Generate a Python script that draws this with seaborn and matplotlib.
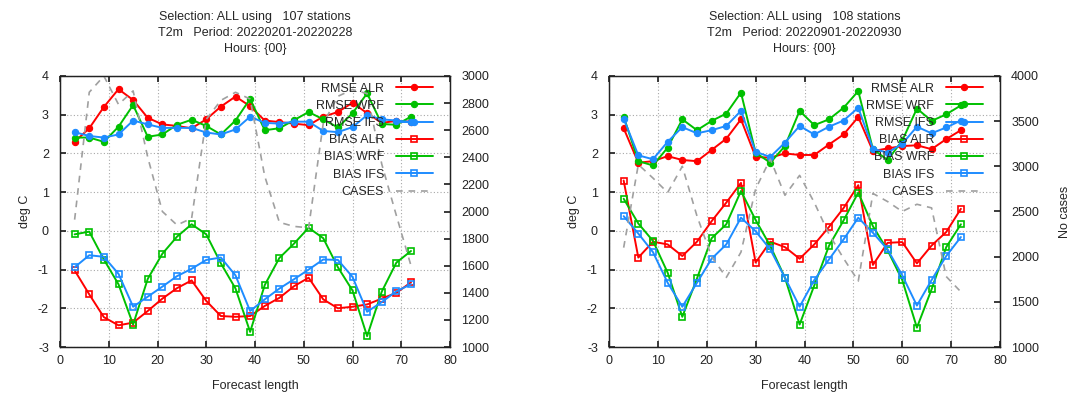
import matplotlib
matplotlib.use("Agg")
import matplotlib.pyplot as plt
import seaborn as sns
import numpy as np

# ---------------- data ----------------
hours = [3, 6, 9, 12, 15, 18, 21, 24, 27, 30, 33, 36, 39, 42, 45, 48, 51, 54, 57, 60, 63, 66, 69, 72]
series_names = ["RMSE ALR", "RMSE WRF", "RMSE IFS", "BIAS ALR", "BIAS WRF", "BIAS IFS"]

# February 2022 (107 stations)
feb_rmse_alr = [2.30, 2.65, 3.20, 3.66, 3.38, 2.92, 2.75, 2.71, 2.65, 2.88, 3.21, 3.47, 3.22, 2.85, 2.81, 2.77, 2.73, 2.95, 3.07, 3.31, 3.04, 2.79, 2.84, 2.82]
feb_rmse_wrf = [2.41, 2.41, 2.30, 2.69, 3.25, 2.43, 2.49, 2.74, 2.87, 2.71, 2.49, 2.85, 3.41, 2.60, 2.65, 2.86, 3.07, 2.88, 2.67, 3.04, 3.55, 2.76, 2.74, 2.95]
feb_rmse_ifs = [2.55, 2.45, 2.41, 2.49, 2.85, 2.75, 2.66, 2.66, 2.66, 2.54, 2.49, 2.62, 2.95, 2.79, 2.77, 2.82, 2.82, 2.58, 2.55, 2.68, 2.99, 2.88, 2.85, 2.81]
feb_bias_alr = [-1.02, -1.64, -2.23, -2.44, -2.37, -2.07, -1.75, -1.48, -1.28, -1.81, -2.20, -2.22, -2.20, -1.94, -1.73, -1.43, -1.21, -1.77, -2.00, -1.96, -1.90, -1.75, -1.60, -1.33]
feb_bias_wrf = [-0.09, -0.02, -0.74, -1.38, -2.42, -1.24, -0.59, -0.15, 0.17, -0.09, -0.84, -1.49, -2.61, -1.40, -0.70, -0.33, 0.08, -0.19, -0.94, -1.54, -2.72, -1.57, -0.82, -0.52]
feb_bias_ifs = [-0.94, -0.63, -0.67, -1.11, -1.96, -1.70, -1.44, -1.17, -0.98, -0.75, -0.69, -1.15, -2.07, -1.77, -1.49, -1.25, -1.00, -0.74, -0.75, -1.19, -2.09, -1.84, -1.56, -1.38]
feb_cases = [1940, 2880, 3000, 2790, 2890, 2400, 2000, 1900, 1950, 2680, 2820, 2880, 2830, 2260, 1920, 1890, 1880, 2650, 2850, 2900, 2870, 2350, 1970, 1600]

# September 2022 (108 stations)
sep_rmse_alr = [2.65, 1.76, 1.80, 1.93, 1.83, 1.80, 2.09, 2.38, 2.88, 1.91, 1.89, 2.00, 1.96, 1.96, 2.23, 2.49, 2.94, 2.06, 2.13, 2.19, 2.21, 2.11, 2.37, 2.60]
sep_rmse_wrf = [2.95, 1.80, 1.69, 2.15, 2.88, 2.60, 2.84, 3.03, 3.57, 2.02, 1.76, 2.19, 3.10, 2.73, 2.88, 3.18, 3.61, 2.11, 1.83, 2.33, 3.16, 2.84, 3.01, 3.24]
sep_rmse_ifs = [2.90, 1.95, 1.85, 2.30, 2.68, 2.52, 2.60, 2.71, 3.10, 2.04, 1.91, 2.28, 2.71, 2.49, 2.69, 2.85, 3.18, 2.12, 2.02, 2.25, 2.69, 2.52, 2.67, 2.85]
sep_bias_alr = [1.30, -0.69, -0.28, -0.35, -0.65, -0.28, 0.25, 0.73, 1.24, -0.82, -0.28, -0.42, -0.72, -0.35, 0.10, 0.59, 1.18, -0.88, -0.31, -0.29, -0.84, -0.38, -0.03, 0.57]
sep_bias_wrf = [0.83, 0.19, -0.26, -1.08, -2.22, -1.23, -0.19, 0.17, 1.03, 0.28, -0.39, -1.21, -2.42, -1.41, -0.39, 0.27, 0.99, 0.12, -0.50, -1.27, -2.50, -1.51, -0.42, 0.17]
sep_bias_ifs = [0.38, -0.07, -0.55, -1.34, -1.96, -1.34, -0.72, -0.35, 0.34, -0.01, -0.48, -1.21, -1.96, -1.27, -0.74, -0.22, 0.34, -0.05, -0.48, -1.15, -1.93, -1.27, -0.65, -0.16]
sep_cases = [2100, 3020, 2870, 2710, 3000, 2450, 2000, 1770, 2050, 2750, 3080, 2680, 2900, 2600, 2250, 1980, 1730, 2700, 2610, 2500, 2580, 2540, 1780, 1610]

feb_title = "Selection: ALL using   107 stations\nT2m   Period: 20220201-20220228\nHours: {00}"
sep_title = "Selection: ALL using   108 stations\nT2m   Period: 20220901-20220930\nHours: {00}"

# ---------------- style ----------------
sns.set_theme(style="white")
plt.rcParams["font.family"] = ["Liberation Sans", "DejaVu Sans"]
plt.rcParams["font.size"] = 9
plt.rcParams["axes.unicode_minus"] = False

RED, GREEN, BLUE, GRAY = "#ff0000", "#00c000", "#1e8cff", "#a0a0a0"
colors = [RED, GREEN, BLUE, RED, GREEN, BLUE]

W, H = 1073, 399
fig = plt.figure(figsize=(W / 100, H / 100), dpi=100)


def panel(rect, values, cases, y2max, y2step, title, y2label):
    ax = fig.add_axes(rect)
    for name, vals, col in zip(series_names, values, colors):
        if name.startswith("RMSE"):
            sns.lineplot(x=hours, y=vals, ax=ax, color=col, linewidth=1.4,
                         marker="o", markersize=4.5, markeredgecolor=col,
                         markerfacecolor=col, markeredgewidth=0.8, label=name)
        else:
            sns.lineplot(x=hours, y=vals, ax=ax, color=col, linewidth=1.4,
                         marker="s", markersize=5.0, markeredgecolor=col,
                         markerfacecolor="none", markeredgewidth=1.2, label=name)
    if ax.get_legend() is not None:
        ax.get_legend().remove()
    ax.set_xlim(0, 80)
    ax.set_ylim(-3, 4)
    ax.set_xticks(range(0, 81, 10))
    ax.set_yticks(range(-3, 5))
    ax.grid(True, color="#a8a8a8", linestyle=(0, (1, 2)), linewidth=0.8)
    ax.tick_params(axis="x", direction="in", length=4, top=True, bottom=True,
                   pad=6, labelsize=9, colors="#222222")
    ax.tick_params(axis="y", direction="in", length=4, left=True, right=False,
                   pad=8, labelsize=9, colors="#222222")
    for s in ax.spines.values():
        s.set_color("#222222")
        s.set_linewidth(0.9)
    ax.set_xlabel("Forecast length", fontsize=9, labelpad=9)
    ax.set_ylabel("deg C", fontsize=9, labelpad=5)
    ax.set_title(title, fontsize=9, pad=17, linespacing=1.45)

    tw = ax.twinx()
    sns.lineplot(x=hours, y=cases, ax=tw, color=GRAY, linewidth=1.2,
                 linestyle=(0, (4, 3.5)), label="CASES")
    if tw.get_legend() is not None:
        tw.get_legend().remove()
    tw.set_ylim(1000, y2max)
    tw.set_yticks(np.arange(1000, y2max + 1, y2step))
    tw.tick_params(axis="y", direction="in", length=4, pad=8, labelsize=9,
                   colors="#222222")
    tw.grid(False)
    for s in tw.spines.values():
        s.set_color("#222222")
        s.set_linewidth(0.9)
    tw.set_ylabel(y2label, fontsize=9, labelpad=14)

    h1, l1 = ax.get_legend_handles_labels()
    h2, l2 = tw.get_legend_handles_labels()
    axw = rect[2] * W
    axh = rect[3] * H
    tw.legend(h1 + h2, l1 + l2, loc="upper right",
              bbox_to_anchor=(1 - 17 / axw, 1 - 6.5 / axh),
              frameon=False, markerfirst=False, handlelength=3.0,
              handletextpad=0.9, labelspacing=0.42, borderpad=0,
              borderaxespad=0, fontsize=9)
    return ax, tw


panel([60 / W, 52 / H, 390 / W, 271 / H],
      [feb_rmse_alr, feb_rmse_wrf, feb_rmse_ifs, feb_bias_alr, feb_bias_wrf, feb_bias_ifs],
      feb_cases, 3000, 200, feb_title, "")
panel([609 / W, 52 / H, 391 / W, 271 / H],
      [sep_rmse_alr, sep_rmse_wrf, sep_rmse_ifs, sep_bias_alr, sep_bias_wrf, sep_bias_ifs],
      sep_cases, 4000, 500, sep_title, "No cases")

fig.savefig("out.png", dpi=100, facecolor="white")
